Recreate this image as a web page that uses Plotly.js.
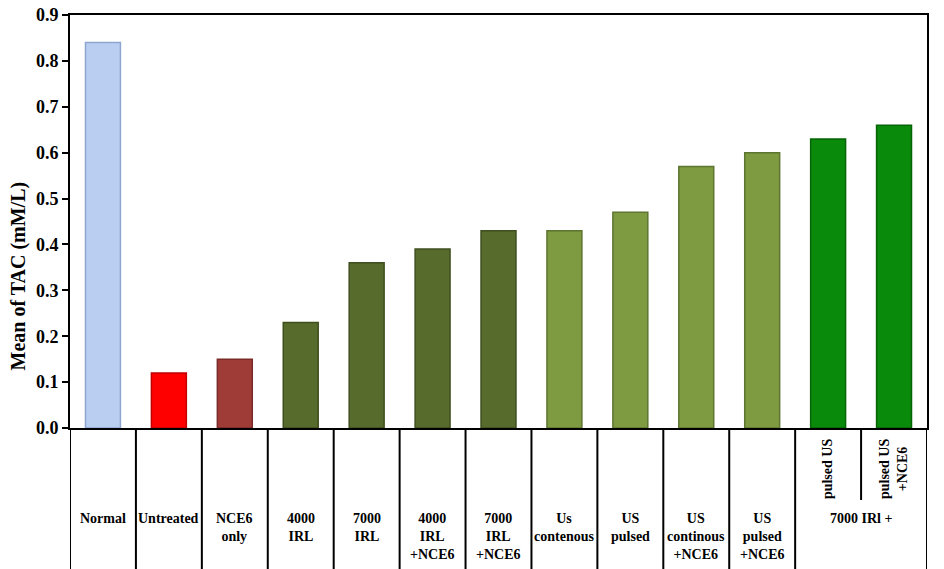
<!DOCTYPE html>
<html>
<head>
<meta charset="utf-8">
<script src="https://cdn.plot.ly/plotly-3.0.1.min.js"></script>
<style>html,body{margin:0;padding:0;background:#fff;}#chart{width:944px;height:569px;}</style>
</head>
<body>
<div id="chart"></div>
<script>
// ---- data ----
const categories = ["Normal", "Untreated", "NCE6 only", "4000 IRL", "7000 IRL", "4000 IRL +NCE6",
  "7000 IRL +NCE6", "Us contenous", "US pulsed", "US continous +NCE6", "US pulsed +NCE6",
  "7000 IRl + pulsed US", "7000 IRl + pulsed US +NCE6"];
const values = [0.84, 0.12, 0.15, 0.23, 0.36, 0.39, 0.43, 0.43, 0.47, 0.57, 0.60, 0.63, 0.66];
const tickLabels = ["Normal", "Untreated", "NCE6<br>only", "4000<br>IRL", "7000<br>IRL", "4000<br>IRL<br>+NCE6",
  "7000<br>IRL<br>+NCE6", "Us<br>contenous", "US<br>pulsed", "US<br>continous<br>+NCE6", "US<br>pulsed<br>+NCE6"];
const groupLabel = "7000 IRl +";
const subLabels = ["pulsed US", "pulsed US<br>+NCE6"];
const yTitle = "Mean of TAC (mM/L)";
const yTickVals = [0, 0.1, 0.2, 0.3, 0.4, 0.5, 0.6, 0.7, 0.8, 0.9];
const yTickText = ["0.0", "0.1", "0.2", "0.3", "0.4", "0.5", "0.6", "0.7", "0.8", "0.9"];
const fillColors = ["#b9cef0", "#ff0000", "#a03c38", "#566b2c", "#566b2c", "#566b2c", "#566b2c",
  "#7e9b41", "#7e9b41", "#7e9b41", "#7e9b41", "#0a8a0a", "#0a8a0a"];
const lineColors = ["#8ea6cf", "#c00000", "#7a2a27", "#3f4f1f", "#3f4f1f", "#3f4f1f", "#3f4f1f",
  "#5d7530", "#5d7530", "#5d7530", "#5d7530", "#066406", "#066406"];

const FONT = "Liberation Serif";
const n = categories.length;
const plotW = 857, plotH = 413, bottomM = 141, leftM = 70;
const tableBottom = -bottomM / plotH;

const shapes = [];
const annotations = [];
// table vertical lines
for (let i = 0; i <= n; i++) {
  const xb = i - 0.5;
  const partial = (i === n - 1);
  shapes.push({type: 'line', xref: 'x', yref: 'paper', x0: xb, x1: xb, y0: 0,
    y1: partial ? -72 / plotH : tableBottom, line: {color: '#000', width: 2}});
}
// category labels
for (let i = 0; i < tickLabels.length; i++) {
  annotations.push({x: categories[i], xref: 'x', yref: 'paper', y: -81 / plotH, yanchor: 'top',
    xanchor: 'center', text: '<b>' + tickLabels[i] + '</b>', showarrow: false,
    font: {family: FONT, size: 14, color: '#000'}});
}
annotations.push({x: n - 1.5, xref: 'x', yref: 'paper', y: -81 / plotH, yanchor: 'top', xanchor: 'center',
  text: '<b>' + groupLabel + '</b>', showarrow: false, font: {family: FONT, size: 14, color: '#000'}});
for (let j = 0; j < subLabels.length; j++) {
  annotations.push({x: categories[n - 2 + j], xref: 'x', yref: 'paper', y: -41 / plotH, yanchor: 'middle',
    xanchor: 'center', textangle: -90, text: '<b>' + subLabels[j] + '</b>', showarrow: false,
    font: {family: FONT, size: 14, color: '#000'}});
}
// y-axis title (placed as in the reference, below the axis centre)
annotations.push({xref: 'paper', yref: 'paper', x: (17.5 - leftM) / plotW, y: (428 - 276) / plotH,
  xanchor: 'center', yanchor: 'middle', textangle: -90, text: '<b>' + yTitle + '</b>', showarrow: false,
  font: {family: FONT, size: 20, color: '#000'}});

const trace = {
  type: 'bar', x: categories, y: values, width: 0.53,
  marker: {color: fillColors, line: {color: lineColors, width: 1.5}},
  hoverinfo: 'x+y'
};

const layout = {
  width: 944, height: 569,
  margin: {l: leftM, r: 17, t: 15, b: bottomM},
  paper_bgcolor: '#fff', plot_bgcolor: '#fff',
  showlegend: false,
  xaxis: {type: 'category', range: [-0.5, n - 0.5], showticklabels: false, ticks: '',
    showgrid: false, zeroline: false, showline: true, mirror: true, linecolor: '#000', linewidth: 2},
  yaxis: {range: [0, 0.9], tickmode: 'array', tickvals: yTickVals,
    ticktext: yTickText.map(t => '<b>' + t + '</b>'), ticks: 'outside', ticklen: 6,
    tickwidth: 2, tickcolor: '#000', showgrid: false, zeroline: false, showline: true, mirror: true,
    linecolor: '#000', linewidth: 2,
    tickfont: {family: FONT, size: 18, color: '#000'}},
  shapes: shapes,
  annotations: annotations
};

Plotly.newPlot('chart', [trace], layout, {displayModeBar: false, staticPlot: true});
</script>
</body>
</html>
